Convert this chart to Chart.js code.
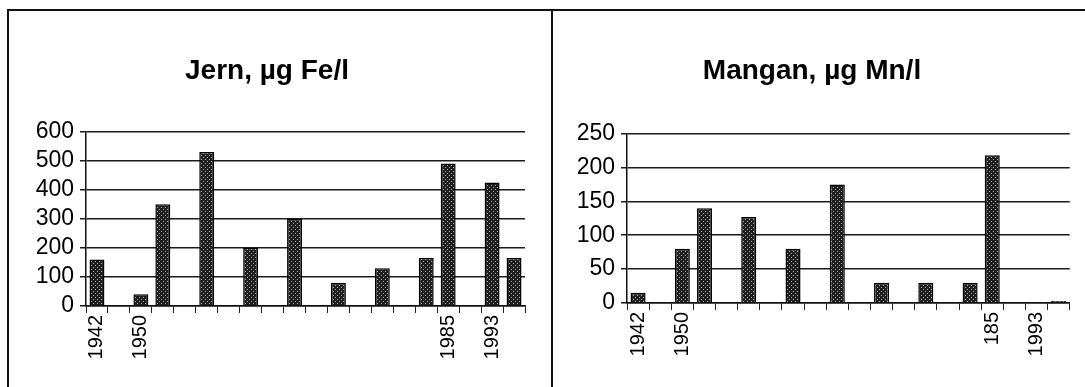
<!DOCTYPE html>
<html>
<head>
<meta charset="utf-8">
<script src="https://cdn.jsdelivr.net/npm/chart.js@4.4.0/dist/chart.umd.min.js"></script>
<style>
  body { margin: 0; background: #fff; }
  #wrap { position: relative; width: 1085px; height: 387px; background: #fff; overflow: hidden; }
  .panel { position: absolute; box-sizing: border-box; }
  #p1 { left: 7px; top: 9px; width: 546px; height: 380px; border-left: 2px solid #111; border-top: 2px solid #111; border-right: 2px solid #111; }
  #p2 { left: 553px; top: 9px; width: 540px; height: 380px; border-top: 2px solid #111; }
  canvas { position: absolute; left: 0; top: 0; }
</style>
</head>
<body>
<div id="wrap">
  <div class="panel" id="p1"><canvas id="jern" width="542" height="378"></canvas></div>
  <div class="panel" id="p2"><canvas id="mangan" width="532" height="378"></canvas></div>
</div>
<script>
// Jern (iron), µg Fe/l - 20 sampling slots, only some years labelled
const jernLabels = ['1942', '', '1950', '', '', '', '', '', '', '', '', '', '', '', '', '', '1985', '', '1993', ''];
const jernValues = [160, 0, 40, 350, 0, 530, 0, 200, 0, 300, 0, 80, 0, 130, 0, 165, 490, 0, 425, 165];

// Mangan (manganese), µg Mn/l
const manganLabels = ['1942', '', '1950', '', '', '', '', '', '', '', '', '', '', '', '', '', '185', '', '1993', ''];
const manganValues = [15, 0, 80, 140, 0, 127, 0, 80, 0, 175, 0, 30, 0, 30, 0, 30, 218, 0, 1, 3];

// stippled bar fill like the scanned print
function makePattern() {
    const c = document.createElement('canvas');
    c.width = 4; c.height = 4;
    const g = c.getContext('2d');
    g.fillStyle = '#1e1e1e';
    g.fillRect(0, 0, 4, 4);
    g.fillStyle = '#b0b0b0';
    g.fillRect(0, 0, 1, 1);
    g.fillRect(2, 2, 1, 1);
    return g.createPattern(c, 'repeat');
}

function makeChart(id, title, labels, values, maxY, step, yWidth, xHeight, padRight, titleBottom) {
    const ctx = document.getElementById(id).getContext('2d');
    return new Chart(ctx, {
        type: 'bar',
        data: {
            labels: labels,
            datasets: [{
                data: values,
                backgroundColor: makePattern(),
                borderColor: '#000',
                borderWidth: 1.5,
                barPercentage: 0.68,
                categoryPercentage: 1
            }]
        },
        options: {
            responsive: false,
            animation: false,
            layout: { padding: { left: 0, right: padRight, top: 0, bottom: 0 } },
            plugins: {
                legend: { display: false },
                tooltip: { enabled: false },
                title: {
                    display: true,
                    text: title,
                    color: '#000',
                    font: { family: 'Liberation Sans', size: 28, weight: 'bold' },
                    padding: { top: 43, bottom: titleBottom }
                }
            },
            scales: {
                x: {
                    offset: true,
                    grid: { display: true, drawOnChartArea: false, color: '#222', lineWidth: 1, tickLength: 7, offset: true },
                    border: { display: true, color: '#111', width: 1.5 },
                    ticks: {
                        autoSkip: false,
                        maxRotation: 90,
                        minRotation: 90,
                        padding: 2,
                        color: '#000',
                        font: { family: 'Liberation Sans', size: 20 }
                    },
                    afterFit: function(scale) { scale.height = xHeight; }
                },
                y: {
                    min: 0,
                    max: maxY,
                    grid: { color: '#1a1a1a', lineWidth: 1.5, tickLength: 6 },
                    border: { display: true, color: '#111', width: 1.5 },
                    ticks: {
                        stepSize: step,
                        autoSkip: false,
                        padding: 6,
                        color: '#000',
                        font: { family: 'Liberation Sans', size: 23 }
                    },
                    afterFit: function(scale) { scale.width = yWidth; }
                }
            }
        }
    });
}

makeChart('jern', 'Jern, µg Fe/l', jernLabels, jernValues, 600, 100, 77, 83, 26, 44);
makeChart('mangan', 'Mangan, µg Mn/l', manganLabels, manganValues, 250, 50, 74, 86, 14, 46);
</script>
</body>
</html>
